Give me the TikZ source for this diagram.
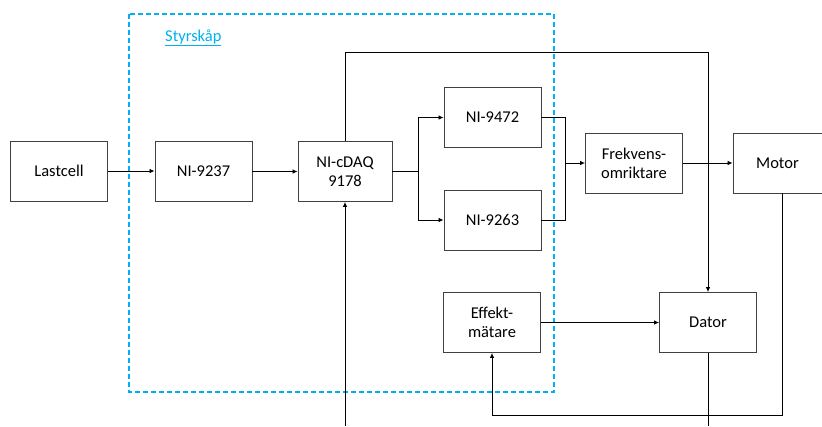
\documentclass[tikz,border=0pt]{standalone}
\usepackage{fontspec}
\setmainfont{Carlito}
\usetikzlibrary{arrows.meta}
\definecolor{boxline}{HTML}{404040}
\definecolor{cabinet}{HTML}{00B0F0}
\begin{document}
\begin{tikzpicture}[x=1pt,y=-1pt,
  blk/.style={draw=boxline,line width=0.9pt,fill=white,minimum width=97pt,minimum height=60pt,inner sep=0pt,align=center,font=\fontsize{16.5}{19}\selectfont},
  conn/.style={draw=black,line width=0.8pt},
  arr/.style={conn,-{Latex[length=5pt,width=4.5pt]}}]
\useasboundingbox (0,0) rectangle (822,426);
\draw[cabinet,dashed,line width=1.4pt,dash pattern=on 5pt off 3pt] (129,14) rectangle (554,392);
\node[anchor=west,text=cabinet,font=\fontsize{16.5}{19}\selectfont,inner sep=0pt] (lab) at (165,38) {\underline{Styrskåp}};
\node[blk] (last) at (59,171) {Lastcell};
\node[blk] (n37) at (203.5,171.5) {NI-9237};
\node[blk,minimum width=94pt] (daq) at (345,171.5) {NI-cDAQ\\9178};
\node[blk] (n72) at (492.5,117.5) {NI-9472};
\node[blk] (n63) at (492.5,220) {NI-9263};
\node[blk] (frek) at (634,163) {Frekvens-\\omriktare};
\node[blk,minimum width=89pt] (mot) at (777.5,163) {Motor};
\node[blk] (eff) at (492,322.5) {Effekt-\\mätare};
\node[blk] (dat) at (708,322.5) {Dator};
\coordinate (bot1) at (345,426);
\coordinate (bot2) at (708,426);
\coordinate (br) at (418,171.5);
\coordinate (mg) at (565,163);
\draw[arr] (last.east) -- (n37.west |- last.east);
\draw[arr] (n37.east) -- (daq.west);
\draw[conn] (daq.east) -- (br);
\draw[arr] (br) |- (n72.west);
\draw[arr] (br) |- (n63.west);
\draw[conn] (n72.east) -| (mg);
\draw[conn] (n63.east) -| (mg);
\draw[arr] (mg) -- (frek.west);
\draw[arr] (frek.east) -- (mot.west);
\draw[arr] (daq.north) -- (345,52) -| (dat.north);
\draw[arr] (bot1) -- (daq.south);
\draw[arr] (eff.east) -- (dat.west);
\draw[conn] (dat.south) -- (bot2);
\draw[arr] (mot.south -| 782,0) -- (782,415) -| (eff.south);
\end{tikzpicture}
\end{document}
